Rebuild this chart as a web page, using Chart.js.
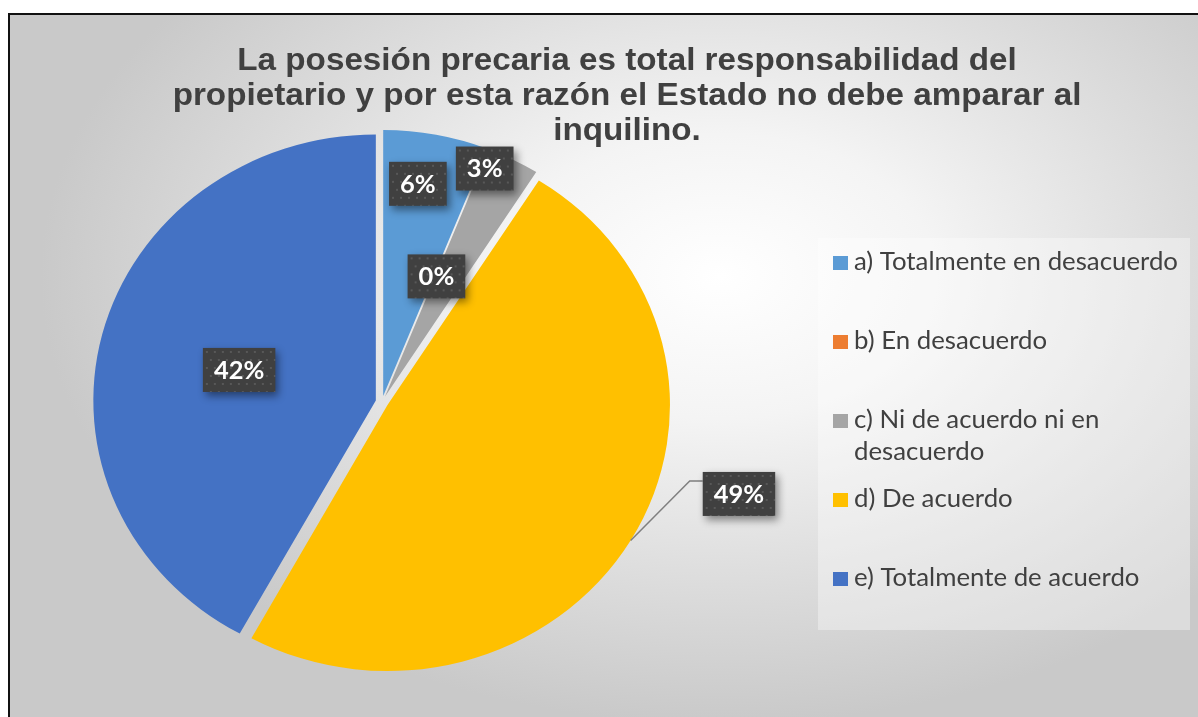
<!DOCTYPE html>
<html>
<head>
<meta charset="utf-8">
<script src="https://cdn.jsdelivr.net/npm/chart.js@4.4.1/dist/chart.umd.min.js"></script>
<style>
  html, body { margin: 0; padding: 0; width: 1198px; height: 717px; overflow: hidden; background: #fff; }
  #frame {
    position: absolute; left: 8px; top: 13px; width: 1250px; height: 730px;
    box-sizing: border-box; border: 2px solid #111;
    background: radial-gradient(ellipse 62% 70% at 57% 36%, #ffffff 0%, #f4f4f4 28%, #dedede 58%, #c9c9c9 88%);
  }
  #box { position: absolute; left: 0; top: 0; width: 1198px; height: 717px; }
</style>
</head>
<body>
<div id="frame"></div>
<div id="box"><canvas id="chart"></canvas></div>
<script>
const titleLines = [
  "La posesión precaria es total responsabilidad del",
  "propietario y por esta razón el Estado no debe amparar al",
  "inquilino."
];
const categories = [
  "a) Totalmente en desacuerdo",
  "b) En desacuerdo",
  "c) Ni de acuerdo ni en desacuerdo",
  "d) De acuerdo",
  "e) Totalmente de acuerdo"
];
const values = [6, 0, 3, 49, 42];
const valueLabels = ["6%", "0%", "3%", "49%", "42%"];

const colors = ["#5B9BD5", "#ED7D31", "#A5A5A5", "#FFC000", "#4472C4"];
const ink = "#404040";
const stretchX = 1.062;      // the reference is slightly wider than tall
const explodePx = 6;         // each slice pushed out along its middle
// label placement: fraction of radius and angle shift (deg) from slice middle
const labelPlace = [
  { k: 0.83, da: -2 },
  { k: 0.51, da: 0.6 },
  { k: 0.95, da: -4.5 },
  { k: 1.31, da: -15.3 },
  { k: 0.52, da: -1 }
];

// draw text stretched horizontally like the reference
function wideText(ctx, txt, x, y) {
  ctx.save();
  ctx.translate(x, y);
  ctx.scale(stretchX, 1);
  ctx.fillText(txt, 0, 0);
  ctx.restore();
}

const titlePlugin = {
  id: "titleLines",
  afterDraw(chart) {
    const ctx = chart.ctx;
    ctx.save();
    ctx.fillStyle = ink;
    ctx.font = "bold 31.3px 'Liberation Sans', Arial, sans-serif";
    ctx.textAlign = "center";
    ctx.textBaseline = "alphabetic";
    titleLines.forEach((t, i) => wideText(ctx, t, 627, 70 + i * 35));
    ctx.restore();
  }
};

// exploded pie: draw each arc element moved out along its middle angle
const explodePlugin = {
  id: "explode",
  beforeDatasetsDraw(chart) {
    const ctx = chart.ctx;
    chart.getDatasetMeta(0).data.forEach(arc => {
      const mid = (arc.startAngle + arc.endAngle) / 2;
      ctx.save();
      ctx.translate(arc.x, arc.y);
      ctx.scale(stretchX, 1);
      ctx.translate(Math.cos(mid) * explodePx - arc.x, Math.sin(mid) * explodePx - arc.y);
      arc.draw(ctx);
      ctx.restore();
    });
    return false;
  }
};

const legendPlugin = {
  id: "sideLegend",
  afterDraw(chart) {
    const ctx = chart.ctx;
    ctx.save();
    ctx.fillStyle = "rgba(255,255,255,0.35)";
    ctx.fillRect(818, 238, 372, 392);
    ctx.font = "24.3px Lato, 'Open Sans', sans-serif";
    ctx.textBaseline = "alphabetic";
    ctx.textAlign = "left";
    const maxW = 330 / stretchX;
    chart.data.labels.forEach((lab, i) => {
      const base = 270 + i * 79;
      ctx.fillStyle = chart.data.datasets[0].backgroundColor[i];
      ctx.fillRect(833, base - 14, 15, 14);
      const words = lab.split(" ");
      const lines = [];
      let cur = "";
      words.forEach(w => {
        const test = cur ? cur + " " + w : w;
        if (ctx.measureText(test).width > maxW && cur) { lines.push(cur); cur = w; }
        else cur = test;
      });
      lines.push(cur);
      ctx.fillStyle = ink;
      lines.forEach((ln, j) => wideText(ctx, ln, 854, base + j * 32));
    });
    ctx.restore();
  }
};

function dotBox(ctx, x, y, w, h) {
  ctx.save();
  ctx.shadowColor = "rgba(0,0,0,0.45)";
  ctx.shadowBlur = 8;
  ctx.shadowOffsetX = 3;
  ctx.shadowOffsetY = 4;
  ctx.fillStyle = "#404040";
  ctx.fillRect(x, y, w, h);
  ctx.restore();
  ctx.save();
  ctx.beginPath();
  ctx.rect(x, y, w, h);
  ctx.clip();
  ctx.fillStyle = "rgba(255,255,255,0.13)";
  for (let yy = y + 3, r = 0; yy < y + h; yy += 8, r++) {
    for (let xx = x + 3 + (r % 2) * 4; xx < x + w; xx += 8) {
      ctx.fillRect(xx, yy, 2, 2);
    }
  }
  ctx.restore();
}

const labelPlugin = {
  id: "valueLabels",
  afterDraw(chart) {
    const ctx = chart.ctx;
    const arcs = chart.getDatasetMeta(0).data;
    ctx.save();
    ctx.font = "bold 24px Lato, 'Open Sans', sans-serif";
    arcs.forEach((arc, i) => {
      const p = arc.getProps(["x", "y", "startAngle", "endAngle", "outerRadius"], true);
      const mid = (p.startAngle + p.endAngle) / 2;
      const pl = labelPlace[i];
      const ang = mid + pl.da * Math.PI / 180;
      const dist = pl.k * p.outerRadius;
      const lx = p.x + Math.cos(ang) * dist * stretchX;
      const ly = p.y + Math.sin(ang) * dist;
      const txt = valueLabels[i];
      const w = ctx.measureText(txt).width * stretchX + 22;
      const h = 44;
      const bx = lx - w / 2, by = ly - h / 2;
      if (pl.k > 1) {
        const r0 = p.outerRadius + explodePx;
        ctx.save();
        ctx.strokeStyle = "#7f7f7f";
        ctx.lineWidth = 1.5;
        ctx.beginPath();
        ctx.moveTo(p.x + Math.cos(mid) * r0 * stretchX, p.y + Math.sin(mid) * r0);
        ctx.lineTo(bx - 13, by + 9);
        ctx.lineTo(bx, by + 9);
        ctx.stroke();
        ctx.restore();
      }
      dotBox(ctx, bx, by, w, h);
      ctx.fillStyle = "#ffffff";
      ctx.textAlign = "center";
      ctx.textBaseline = "middle";
      wideText(ctx, txt, lx, ly + 1);
    });
    ctx.restore();
  }
};

new Chart(document.getElementById("chart"), {
  type: "pie",
  data: {
    labels: categories,
    datasets: [{
      data: values,
      backgroundColor: colors,
      borderWidth: 0,
      radius: 266
    }]
  },
  options: {
    responsive: true,
    maintainAspectRatio: false,
    animation: false,
    layout: { padding: { left: 100, right: 534, top: 130, bottom: 43 } },
    plugins: {
      legend: { display: false },
      title: { display: false },
      tooltip: { enabled: false }
    }
  },
  plugins: [explodePlugin, titlePlugin, legendPlugin, labelPlugin]
});
</script>
</body>
</html>
